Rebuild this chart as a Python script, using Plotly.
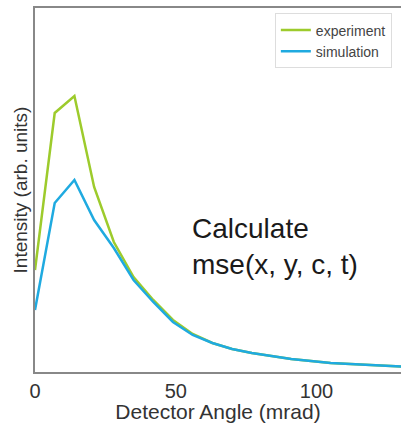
import plotly.graph_objects as go

angle = [0, 7, 14, 21, 28, 35, 42, 49, 56, 63, 70, 77, 84, 91, 98, 105, 112, 119, 126, 133]
experiment = [102, 259, 276, 185, 130, 95, 72, 52, 38, 29, 23, 19, 16, 13, 11, 9, 8, 7, 6, 5]
simulation = [62, 169, 192, 152, 124, 92, 70, 50, 37, 29, 23, 19, 16, 13, 11, 9, 8, 7, 6, 5]
x_ticks = [0, 50, 100]

fig = go.Figure()
fig.add_trace(go.Scatter(x=angle, y=experiment, mode="lines", name="experiment",
                         line=dict(color="#9DCB2C", width=2.5)))
fig.add_trace(go.Scatter(x=angle, y=simulation, mode="lines", name="simulation",
                         line=dict(color="#1FAAE0", width=2.5)))

L, T, B = 35, 8, 51
plot_w = 401 - L
plot_h = 423 - T - B

fig.update_layout(
    width=401, height=423,
    margin=dict(l=L, r=0, t=T, b=B),
    paper_bgcolor="white", plot_bgcolor="white",
    font=dict(family="Liberation Sans, Arial, sans-serif", color="#333"),
    showlegend=True,
    legend=dict(x=0.975, y=0.985, xanchor="right", yanchor="top",
                bordercolor="#dddddd", borderwidth=1, bgcolor="white",
                font=dict(size=14, color="#444"), tracegroupgap=0),
    annotations=[
        dict(text="Calculate<br>mse(x, y, c, t)",
             x=(190 - L) / plot_w, y=(423 - B - 246) / plot_h,
             xref="paper", yref="paper",
             showarrow=False, align="left", xanchor="left", yanchor="middle",
             font=dict(size=28, color="#1a1a1a")),
    ],
)

fig.update_xaxes(range=[0, 130], tickvals=x_ticks, ticktext=[str(v) for v in x_ticks],
                 showgrid=False, zeroline=False, showline=True, linecolor="#888888",
                 linewidth=2, mirror=True, ticks="", tickfont=dict(size=20, color="#333"),
                 title=dict(text="Detector Angle (mrad)", font=dict(size=21, color="#333"), standoff=0))
fig.update_yaxes(range=[0, 364], showticklabels=False, showgrid=False, zeroline=False,
                 showline=True, linecolor="#888888", linewidth=2, ticks="",
                 title=dict(text="Intensity (arb. units)", font=dict(size=19, color="#333"), standoff=0))

fig.write_html("out.html")
